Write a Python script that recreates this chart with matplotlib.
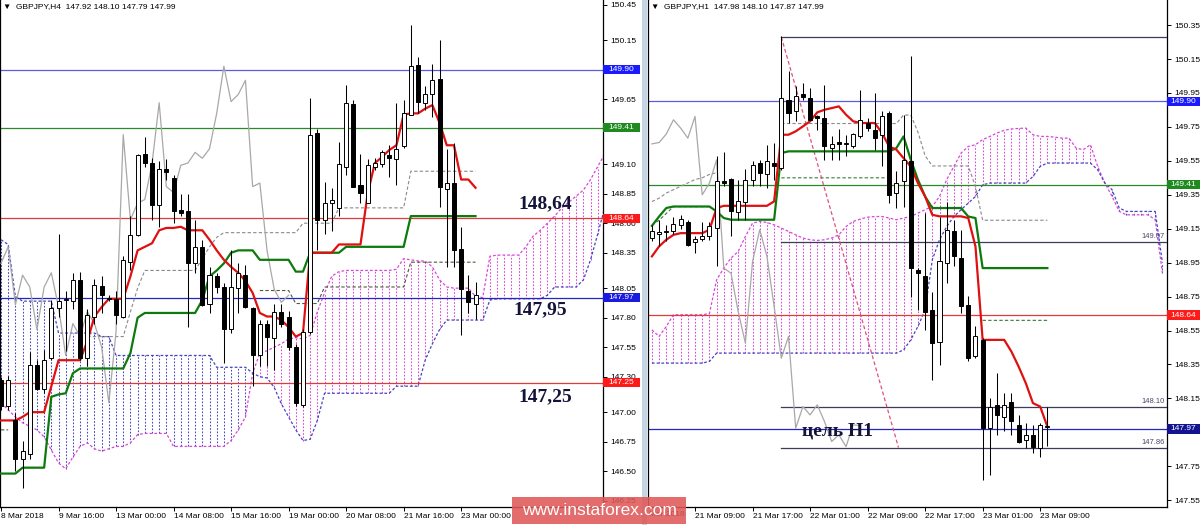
import numpy as np
import matplotlib
matplotlib.use("Agg")
import matplotlib.pyplot as plt
import matplotlib.transforms as mtrans
from matplotlib.patches import Rectangle

nan = np.nan

# ---------------- H4 panel data (left) ----------------
h4_open = [147.27, 147.05, 146.93, 146.60, 146.65, 147.40, 147.20, 147.46, 147.88, 147.95,
           147.94, 148.12, 147.46, 147.81, 148.07, 147.97, 147.96, 147.81, 148.27, 148.50,
           149.19, 149.11, 148.75, 149.06, 148.98, 148.71, 148.70, 148.26, 148.40, 147.92,
           148.15, 148.06, 147.70, 148.05, 148.16, 147.88, 147.48, 147.75, 147.63, 147.85,
           147.81, 147.55, 147.06, 147.68, 149.36, 148.63, 148.77, 148.73, 149.08, 149.61,
           148.92, 148.77, 149.08, 149.10, 149.18, 149.14, 149.25, 149.52, 149.94, 149.62,
           149.69, 149.82, 148.89, 148.94, 148.38, 148.03, 147.92]
h4_high = [147.30, 147.31, 146.99, 146.76, 147.51, 147.44, 147.53, 147.95, 148.51, 148.03,
           148.18, 148.19, 147.87, 148.13, 148.15, 147.99, 148.03, 148.32, 148.66, 149.19,
           149.33, 149.15, 149.13, 149.14, 149.01, 148.85, 148.85, 148.63, 148.46, 148.23,
           148.18, 148.09, 148.37, 148.26, 148.25, 147.89, 147.78, 147.78, 147.92, 147.92,
           147.86, 147.58, 147.70, 149.66, 149.40, 148.95, 148.90, 149.29, 149.77, 149.64,
           149.19, 149.14, 149.15, 149.22, 149.26, 149.62, 149.64, 150.28, 150.01, 149.76,
           149.95, 150.15, 149.23, 149.28, 148.57, 148.16, 148.10]
h4_low = [147.02, 147.02, 146.50, 146.36, 146.60, 147.19, 147.16, 147.44, 147.81, 147.52,
          147.87, 147.44, 147.39, 147.75, 147.84, 147.94, 147.75, 147.80, 148.20, 148.49,
          149.08, 148.63, 148.57, 148.97, 148.60, 148.66, 147.72, 148.18, 147.90, 147.84,
          148.01, 147.42, 147.67, 147.84, 147.88, 147.22, 147.39, 147.39, 147.36, 147.72,
          147.53, 147.05, 147.04, 147.66, 148.37, 148.51, 148.53, 148.66, 149.01, 148.91,
          148.77, 148.77, 149.05, 149.08, 148.99, 148.92, 149.24, 149.52, 149.53, 149.56,
          149.50, 148.74, 148.23, 148.23, 147.65, 147.84, 147.79]
h4_close = [147.05, 147.27, 146.60, 146.67, 147.40, 147.20, 147.44, 147.88, 147.94, 147.96,
            148.12, 147.46, 147.82, 148.08, 147.99, 147.96, 147.82, 148.29, 148.50, 149.18,
            149.11, 148.75, 149.06, 149.03, 148.70, 148.69, 148.26, 148.40, 147.91, 148.16,
            148.06, 147.70, 148.06, 148.18, 147.89, 147.48, 147.75, 147.64, 147.85, 147.75,
            147.55, 147.08, 147.68, 149.35, 148.63, 148.77, 148.80, 149.10, 149.62, 148.91,
            148.86, 149.09, 149.11, 149.20, 149.15, 149.23, 149.53, 149.93, 149.63, 149.69,
            149.81, 148.91, 148.94, 148.37, 148.04, 147.93, 147.99]
h4_tenkan = [146.93, 146.93, 146.93, 146.96, 147.00, 147.00, 147.00, 147.22, 147.44, 147.44,
             147.44, 147.44, 147.60, 147.81, 147.89, 147.96, 147.96, 147.96, 148.15, 148.37,
             148.40, 148.43, 148.54, 148.56, 148.56, 148.57, 148.54, 148.54, 148.54, 148.46,
             148.37, 148.29, 148.23, 148.18, 148.11, 148.01, 147.84, 147.81, 147.81, 147.78,
             147.72, 147.64, 147.67, 148.35, 148.35, 148.35, 148.35, 148.42, 148.42, 148.42,
             148.42, 148.85, 149.11, 149.16, 149.22, 149.26, 149.52, 149.53, 149.53, 149.57,
             149.60, 149.45, 149.26, 149.26, 148.97, 148.97, 148.90]
h4_kijun = [146.48, 146.48, 146.48, 146.53, 146.53, 146.53, 146.53, 147.13, 147.15, 147.16,
            147.33, 147.37, 147.37, 147.37, 147.37, 147.37, 147.37, 147.37, 147.50, 147.80,
            147.84, 147.84, 147.84, 147.84, 147.84, 147.84, 147.84, 147.84, 147.95, 148.15,
            148.20, 148.26, 148.35, 148.37, 148.37, 148.37, 148.29, 148.29, 148.29, 148.29,
            148.29, 148.19, 148.19, 148.35, 148.35, 148.35, 148.35, 148.35, 148.40, 148.40,
            148.40, 148.40, 148.40, 148.40, 148.40, 148.40, 148.40, 148.66, 148.66, 148.66,
            148.66, 148.66, 148.66, 148.66, 148.66, 148.66, 148.66]
h4_span_a = [147.08, 147.02, 146.96, 146.91, 146.88, 146.85, 146.79, 146.68, 146.57, 146.52,
             146.62, 146.71, 146.74, 146.69, 146.67, 146.69, 146.71, 146.71, 146.74, 146.81,
             146.82, 146.82, 146.82, 146.82, 146.71, 146.71, 146.71, 146.71, 146.71, 146.71,
             146.71, 146.71, 146.76, 146.85, 146.96, 147.33, 147.50, 147.52, 147.55, 147.58,
             147.62, 147.63, 147.62, 147.65, 147.85, 148.01, 148.15, 148.19, 148.20, 148.20,
             148.20, 148.20, 148.20, 148.20, 148.20, 148.21, 148.30, 148.29, 148.28, 148.28,
             148.23, 148.12, 148.06, 148.05, 148.05, 148.05, 147.98, 147.97, 148.32, 148.33,
             148.33, 148.33, 148.33, 148.40, 148.49, 148.54, 148.60, 148.66, 148.73, 148.78,
             148.83, 148.88, 148.97, 149.08, 149.19]
h4_span_b = [148.46, 148.42, 147.98, 147.94, 147.94, 147.94, 147.94, 147.94, 147.67, 147.67,
             147.67, 147.67, 147.67, 147.67, 147.64, 147.64, 147.48, 147.48, 147.48, 147.48,
             147.48, 147.48, 147.48, 147.48, 147.48, 147.48, 147.48, 147.48, 147.48, 147.48,
             147.38, 147.38, 147.38, 147.38, 147.38, 147.33, 147.30, 147.29, 147.21, 147.07,
             146.96, 146.85, 146.76, 146.77, 146.93, 147.16, 147.16, 147.16, 147.16, 147.16,
             147.16, 147.16, 147.16, 147.16, 147.16, 147.22, 147.22, 147.22, 147.22, 147.44,
             147.58, 147.70, 147.78, 147.78, 147.78, 147.78, 147.78, 147.78, 147.95, 147.96,
             147.96, 147.96, 147.96, 147.96, 147.96, 147.96, 147.99, 148.06, 148.06, 148.06,
             148.06, 148.12, 148.29, 148.51, 148.74]
h4_dash_gray = [nan, nan, nan, nan, nan, nan, nan, nan, nan, nan,
                nan, nan, 147.64, 147.64, 147.64, 147.64, 147.64, 147.64, 147.85, 148.05,
                148.20, 148.20, 148.20, 148.20, 148.20, 148.20, 148.20, 148.20, 148.30, 148.40,
                148.48, 148.52, 148.52, 148.52, 148.52, 148.52, 148.52, 148.52, 148.52, 148.52,
                148.52, 148.52, 148.60, 148.60, 148.60, 148.60, 148.60, 148.73, 148.73, 148.73,
                148.73, 148.73, 148.73, 148.73, 148.73, 148.73, 148.73, 149.04, 149.04, 149.04,
                149.04, 149.04, 149.04, 149.04, 149.04, 149.04, 149.04]
h4_dash_dark = [146.85, 146.85, nan, nan, nan, nan, nan, nan, nan, nan,
                nan, nan, nan, nan, nan, nan, nan, nan, nan, nan,
                nan, nan, nan, nan, nan, nan, nan, nan, nan, nan,
                nan, nan, nan, nan, nan, nan, 148.03, 148.03, 148.03, 148.03,
                148.03, 147.92, 147.92, 147.92, 147.92, 148.06, 148.06, 148.06, 148.06, 148.06,
                148.06, 148.06, 148.06, 148.06, 148.06, 148.06, 148.06, 148.27, 148.27, 148.27,
                148.27, 148.27, 148.27, 148.27, 148.27, 148.27, 148.27]
h4_tick_pos = [0, 8, 16, 24, 32, 40, 48, 56, 64]
h4_tick_labels = ["8 Mar 2018", "9 Mar 16:00", "13 Mar 00:00", "14 Mar 08:00", "15 Mar 16:00",
                  "19 Mar 00:00", "20 Mar 08:00", "21 Mar 16:00", "23 Mar 00:00"]
h4_price_ticks = [150.45, 150.15, 149.65, 149.10, 148.85, 148.60, 148.35, 148.05, 147.80,
                  147.55, 147.30, 147.00, 146.75, 146.50, 146.25]
h4_levels = [149.90, 149.41, 148.64, 147.97, 147.25]
h4_level_colors = ["#5a5ae6", "#2a8a2a", "#e23a3a", "#2525c0", "#e23a3a"]
h4_label_colors = ["#1a1aff", "#1f8a1f", "#ff1a1a", "#1a1ae0", "#ff1a1a"]
h4_notes = ["148,64", "147,95", "147,25"]
h4_note_x = [75.7, 75.0, 75.7]
h4_note_y = [148.767, 147.865, 147.128]

# ---------------- H1 panel data (right) ----------------
h1_open = [149.095, 149.12, 149.13, 149.134, 149.173, 149.19, 149.069, 149.09, 149.105, 149.154,
           149.43, 149.443, 149.246, 149.31, 149.439, 149.537, 149.47, 149.537, 149.507, 149.91,
           149.842, 149.946, 149.92, 149.812, 149.802, 149.625, 149.66, 149.65, 149.635, 149.694,
           149.773, 149.733, 149.704, 149.832, 149.36, 149.43, 149.547, 148.908, 148.869, 148.672,
           148.485, 148.947, 149.134, 148.977, 148.702, 148.397, 148.495, 147.974, 148.112, 148.043,
           148.126, 147.994, 147.902, 147.935, 147.856, 147.98]
h1_high = [149.17, 149.20, 149.17, 149.22, 149.23, 149.20, 149.11, 149.19, 149.19, 149.576,
           149.60, 149.449, 149.44, 149.50, 149.547, 149.557, 149.645, 149.655, 150.284, 150.077,
           149.99, 150.009, 149.98, 149.822, 150.00, 149.694, 149.74, 149.70, 149.714, 149.969,
           149.803, 149.95, 149.842, 149.842, 149.488, 149.82, 150.166, 148.918, 149.242, 148.78,
           149.222, 149.31, 149.203, 149.144, 148.751, 148.574, 148.505, 148.151, 148.299, 148.181,
           148.181, 148.053, 148.004, 147.994, 148.004, 148.10]
h1_low = [149.08, 149.05, 149.08, 149.12, 149.15, 149.046, 149.006, 149.08, 149.085, 148.928,
          149.40, 149.105, 149.20, 149.20, 149.40, 149.40, 149.39, 149.44, 149.498, 149.773,
          149.783, 149.91, 149.793, 149.733, 149.557, 149.557, 149.557, 149.576, 149.625, 149.684,
          149.724, 149.616, 149.517, 149.30, 149.27, 149.28, 148.75, 148.672, 148.554, 148.26,
          148.348, 148.83, 148.928, 148.653, 148.368, 148.387, 147.67, 147.70, 147.935, 147.955,
          147.935, 147.886, 147.856, 147.827, 147.807, 147.87]
h1_close = [149.134, 149.13, 149.135, 149.18, 149.207, 149.056, 149.089, 149.11, 149.164, 149.429,
            149.42, 149.252, 149.311, 149.439, 149.527, 149.478, 149.547, 149.517, 149.92, 149.832,
            149.93, 149.926, 149.793, 149.80, 149.635, 149.651, 149.65, 149.658, 149.708, 149.792,
            149.743, 149.684, 149.812, 149.35, 149.419, 149.556, 148.918, 148.888, 148.662, 148.476,
            148.957, 149.144, 148.987, 148.692, 148.387, 148.515, 147.974, 148.102, 148.053, 148.112,
            148.014, 147.896, 147.935, 147.866, 147.994, 147.99]
h1_tenkan = [148.987, 149.046, 149.085, 149.114, 149.124, 149.124, 149.124, 149.124, 149.144, 149.272,
             149.285, 149.285, 149.285, 149.285, 149.285, 149.285, 149.285, 149.311, 149.704, 149.704,
             149.724, 149.753, 149.783, 149.836, 149.851, 149.861, 149.871, 149.822, 149.783, 149.773,
             149.773, 149.773, 149.714, 149.635, 149.616, 149.566, 149.517, 149.419, 149.34, 149.232,
             149.223, 149.223, 149.223, 149.223, 149.213, 149.046, 148.495, 148.495, 148.495, 148.495,
             148.426, 148.338, 148.24, 148.122, 148.102, 147.984]
h1_kijun = [149.167, 149.222, 149.272, 149.281, 149.281, 149.281, 149.281, 149.281, 149.281, 149.252,
            149.213, 149.203, 149.203, 149.203, 149.203, 149.203, 149.203, 149.203, 149.596, 149.606,
            149.606, 149.606, 149.606, 149.606, 149.606, 149.606, 149.606, 149.606, 149.606, 149.606,
            149.606, 149.606, 149.606, 149.606, 149.625, 149.694, 149.557, 149.439, 149.34, 149.272,
            149.272, 149.272, 149.272, 149.272, 149.222, 149.213, 148.918, 148.918, 148.918, 148.918,
            148.918, 148.918, 148.918, 148.918, 148.918, 148.918]
h1_span_a = [148.554, 148.515, 148.574, 148.643, 148.643, 148.643, 148.643, 148.643, 148.65, 148.849,
             148.918, 148.977, 149.016, 149.104, 149.183, 149.193, 149.187, 149.173, 149.154, 149.134,
             149.114, 149.095, 149.085, 149.081, 149.085, 149.095, 149.114, 149.163, 149.193, 149.207,
             149.218, 149.222, 149.222, 149.213, 149.203, 149.213, 149.222, 149.242, 149.262, 149.281,
             149.340, 149.439, 149.517, 149.596, 149.635, 149.645, 149.675, 149.694, 149.714, 149.730,
             149.738, 149.741, 149.743, 149.704, 149.694, 149.694, 149.690, 149.684, 149.684, 149.625,
             149.616, 149.645, 149.517, 149.419, 149.34, 149.252, 149.232, 149.232, 149.232, 149.232,
             149.203, 148.89]
h1_span_b = [148.358, 148.358, 148.358, 148.358, 148.358, 148.358, 148.358, 148.358, 148.368, 148.417,
             148.417, 148.417, 148.417, 148.417, 148.417, 148.417, 148.417, 148.417, 148.417, 148.417,
             148.417, 148.417, 148.417, 148.417, 148.417, 148.417, 148.417, 148.417, 148.417, 148.417,
             148.417, 148.417, 148.417, 148.417, 148.417, 148.436, 148.495, 148.574, 148.672, 148.967,
             149.085, 149.163, 149.222, 149.262, 149.301, 149.340, 149.409, 149.419, 149.419, 149.419,
             149.419, 149.419, 149.419, 149.458, 149.517, 149.537, 149.537, 149.537, 149.537, 149.537,
             149.537, 149.537, 149.497, 149.419, 149.38, 149.272, 149.252, 149.252, 149.252, 149.252,
             149.252, 148.95]
h1_dash_gray = [149.31, 149.33, 149.36, 149.38, 149.40, 149.42, 149.44, 149.45, 149.47, 149.48,
                nan, nan, nan, nan, nan, nan, nan, nan, 149.77, 149.77,
                149.77, 149.77, 149.77, 149.77, 149.77, 149.77, 149.77, 149.77, 149.77, 149.77,
                149.77, 149.77, 149.77, 149.77, 149.77, 149.82, 149.82, 149.72, 149.58, 149.52,
                149.52, 149.52, 149.52, 149.52, 149.52, 149.40, 149.20, 149.20, 149.20, 149.20,
                149.20, 149.20, 149.20, 149.20, 149.20, 149.20]
h1_dash_green = [149.17, 149.20, 149.24, 149.28, 149.28, 149.28, 149.28, 149.28, 149.28, nan,
                 nan, nan, nan, nan, nan, nan, nan, nan, 149.45, 149.45,
                 149.45, 149.45, 149.45, 149.45, 149.45, 149.45, 149.45, 149.45, 149.45, 149.45,
                 149.45, 149.45, 149.45, 149.45, nan, nan, nan, nan, nan, nan,
                 nan, nan, nan, nan, nan, nan, 148.61, 148.61, 148.61, 148.61,
                 148.61, 148.61, 148.61, 148.61, 148.61, 148.61]
h1_tick_pos = [6, 14, 22, 30, 38, 46, 54]
h1_tick_labels = ["21 Mar 09:00", "21 Mar 17:00", "22 Mar 01:00", "22 Mar 09:00",
                  "22 Mar 17:00", "23 Mar 01:00", "23 Mar 09:00"]
h1_first_label = "Mar 2018"
h1_price_ticks = [150.35, 150.15, 149.95, 149.75, 149.55, 149.35, 149.15, 148.95, 148.75,
                  148.55, 148.35, 148.15, 147.95, 147.75, 147.55]
h1_hidden_ticks = [147.95]
h1_levels = [149.90, 149.41, 148.64, 147.97]
h1_level_colors = ["#5a5ae6", "#2a8a2a", "#e23a3a", "#2525c0"]
h1_label_colors = ["#1a1aff", "#1f8a1f", "#ff1a1a", "#141490"]
h1_seg_start = 18
h1_segments = [150.28, 149.07, 148.10, 147.86]
h1_seg_labels = ["", "149.07", "148.10", "147.86"]
h1_trend_x = [18, 34.3]
h1_trend_y = [150.28, 147.86]
h1_note = "цель H1"
h1_note_x = 20.9
h1_note_y = 147.955

# ---------------- drawing ----------------
W, H = 1200, 525
PINK = "#d848d8"
BLUE = "#4545c0"
NAVY = "#14143a"

def rect(x0, x1, y0, y1):
    return [x0 / W, 1 - y1 / H, (x1 - x0) / W, (y1 - y0) / H]

fig = plt.figure(figsize=(12, 5.25), dpi=100)
fig.patch.set_facecolor("white")
plt.rcParams["font.family"] = ["Liberation Sans", "DejaVu Sans"]

axL = fig.add_axes(rect(0, 603, 0, 507))
axR = fig.add_axes(rect(648, 1167, 0, 507))

axL.set_xlim(-0.139, 83.73)
axL.set_ylim(146.197, 150.49)
axR.set_xlim(-0.542, 71.64)
axR.set_ylim(147.51, 150.498)


def draw_cloud(ax, A, B):
    A = np.array(A, dtype=float)
    B = np.array(B, dtype=float)
    idx = np.arange(len(A))
    up = A >= B
    ax.vlines(idx[up], B[up], A[up], colors=PINK, linestyles=(0, (1.6, 1.6)), lw=0.75, zorder=1)
    ax.vlines(idx[~up], A[~up], B[~up], colors=BLUE, linestyles=(0, (1.6, 1.6)), lw=0.75, zorder=1)
    ax.plot(idx, A, color=PINK, ls=(0, (2.2, 1.6)), lw=0.9, zorder=1.5)
    ax.plot(idx, B, color=BLUE, ls=(0, (2.2, 1.6)), lw=0.9, zorder=1.5)


def draw_candles(ax, O, Hh, L, C, width=0.56):
    for i, (o, h, l, c) in enumerate(zip(O, Hh, L, C)):
        top, bot = max(o, c), min(o, c)
        ax.vlines(i, min(l, bot), max(h, top), color="black", lw=0.75, zorder=6)
        face = "white" if c >= o else "black"
        ax.add_patch(Rectangle((i - width / 2, bot), width, max(top - bot, 0.004),
                               facecolor=face, edgecolor="black", lw=0.7, zorder=7))


def price_label(ax, y, text, color, width_px, ax_w_px, per_px):
    tr = mtrans.blended_transform_factory(ax.transAxes, ax.transData)
    hh = 4.8 * per_px
    ax.add_patch(Rectangle((1.0, y - hh), width_px / ax_w_px, 2 * hh, transform=tr,
                           facecolor=color, edgecolor="none", clip_on=False, zorder=20))
    ax.text(1.0 + (width_px / 2) / ax_w_px, y, text, transform=tr, color="white",
            fontsize=6, ha="center", va="center", clip_on=False, zorder=21)


def style_axis(ax, ticks, xt, xl, hidden=()):
    ax.set_facecolor("white")
    ax.spines["top"].set_visible(False)
    for s in ["left", "right", "bottom"]:
        ax.spines[s].set_color("black")
        ax.spines[s].set_linewidth(0.9)
    ax.yaxis.tick_right()
    ax.set_yticks(ticks)
    ax.set_yticklabels(["" if t in hidden else f"{t:.2f}" for t in ticks])
    ax.tick_params(axis="y", direction="out", length=3, width=0.7, labelsize=6, pad=2,
                   colors="black")
    ax.set_xticks(xt)
    ax.set_xticklabels(xl)
    ax.tick_params(axis="x", direction="out", length=3, width=0.7, labelsize=6, pad=1.5)
    for lab in ax.get_xticklabels():
        lab.set_ha("left")


# ----- left panel -----
draw_cloud(axL, h4_span_a, h4_span_b)
for lv, col in zip(h4_levels, h4_level_colors):
    axL.axhline(lv, color=col, lw=0.9, zorder=2)
xL = np.arange(len(h4_close))
axL.plot(xL, h4_dash_gray, color="#8a8a8a", ls=(0, (3, 2)), lw=0.8, zorder=2.5)
axL.plot(xL, h4_dash_dark, color="#4a5a3a", ls=(0, (3, 2)), lw=0.8, zorder=2.5)
chik_L = np.array(h4_close[26:])
axL.plot(np.arange(len(chik_L)), chik_L, color="#a8a8a8", lw=0.9, zorder=3)
axL.plot(xL, h4_kijun, color="#0c7a0c", lw=1.6, zorder=4)
axL.plot(xL, h4_tenkan, color="#e01010", lw=1.6, zorder=4.2)
draw_candles(axL, h4_open, h4_high, h4_low, h4_close)
for t, x, y in zip(h4_notes, h4_note_x, h4_note_y):
    axL.text(x, y, t, fontsize=14, fontweight="bold", color=NAVY, ha="center", va="center",
             family=["Liberation Serif", "DejaVu Serif"], zorder=9)
style_axis(axL, h4_price_ticks, h4_tick_pos, h4_tick_labels)
for lv, col in zip(h4_levels, h4_label_colors):
    price_label(axL, lv, f"{lv:.2f}", col, 37, 603, 1 / 118.1)
axL.text(0.005, 0.987, "\u25BC  GBPJPY,H4  147.92 148.10 147.79 147.99", transform=axL.transAxes,
         fontsize=6, ha="left", va="center", color="black", zorder=10)

# ----- right panel -----
draw_cloud(axR, h1_span_a, h1_span_b)
for lv, col in zip(h1_levels, h1_level_colors):
    axR.axhline(lv, color=col, lw=0.9, zorder=2)
xR = np.arange(len(h1_close))
axR.plot(xR, h1_dash_gray, color="#8a8a8a", ls=(0, (3, 2)), lw=0.8, zorder=2.5)
axR.plot(xR, h1_dash_green, color="#3a7a3a", ls=(0, (3, 2)), lw=0.8, zorder=2.5)
for lv, lab in zip(h1_segments, h1_seg_labels):
    axR.plot([h1_seg_start, 71.64], [lv, lv], color="#3c3c5c", lw=0.9, zorder=2.6)
    if lab:
        axR.text(71.3, lv + 0.012, lab, fontsize=5.5, color="#4a4a6a", ha="right", va="bottom",
                 zorder=9)
axR.plot(h1_trend_x, h1_trend_y, color="#e0507a", ls=(0, (3, 2)), lw=0.9, zorder=2.7)
chik_R = np.array(h1_close[26:])
axR.plot(np.arange(len(chik_R)), chik_R, color="#a8a8a8", lw=0.9, zorder=3)
axR.plot(xR, h1_kijun, color="#0c7a0c", lw=1.6, zorder=4)
axR.plot(xR, h1_tenkan, color="#e01010", lw=1.6, zorder=4.2)
draw_candles(axR, h1_open, h1_high, h1_low, h1_close)
axR.text(h1_note_x, h1_note_y, h1_note, fontsize=14, fontweight="bold", color=NAVY,
         ha="left", va="center", family=["Liberation Serif", "DejaVu Serif"], zorder=9)
style_axis(axR, h1_price_ticks, h1_tick_pos, h1_tick_labels, hidden=h1_hidden_ticks)
for lv, col in zip(h1_levels, h1_label_colors):
    price_label(axR, lv, f"{lv:.2f}", col, 33, 519, 1 / 169.6)
axR.text(0.005, 0.987, "\u25BC  GBPJPY,H1  147.98 148.10 147.87 147.99", transform=axR.transAxes,
         fontsize=6, ha="left", va="center", color="black", zorder=10)
# first (partly hidden) date label of the H1 panel
trR = mtrans.blended_transform_factory(axR.transData, axR.transAxes)
axR.text(4.5, -0.0085, h1_first_label, transform=trR, fontsize=6, ha="right", va="top",
         color="black", clip_on=False)

# separator between the two panels
fig.patches.append(Rectangle((642 / W, 0), 5 / W, 1, transform=fig.transFigure,
                             facecolor="#c4d6e6", edgecolor="none", zorder=0))

# watermark
fig.patches.append(Rectangle((512 / W, 1 - 524 / H), 174 / W, 27 / H, transform=fig.transFigure,
                             facecolor="#e05858", alpha=0.88, edgecolor="none", zorder=30))
fig.text(599 / W, 1 - 510.5 / H, "www.instaforex.com", color="white", fontsize=12.5,
         ha="center", va="center", zorder=31)

fig.savefig("out.png", dpi=100)
